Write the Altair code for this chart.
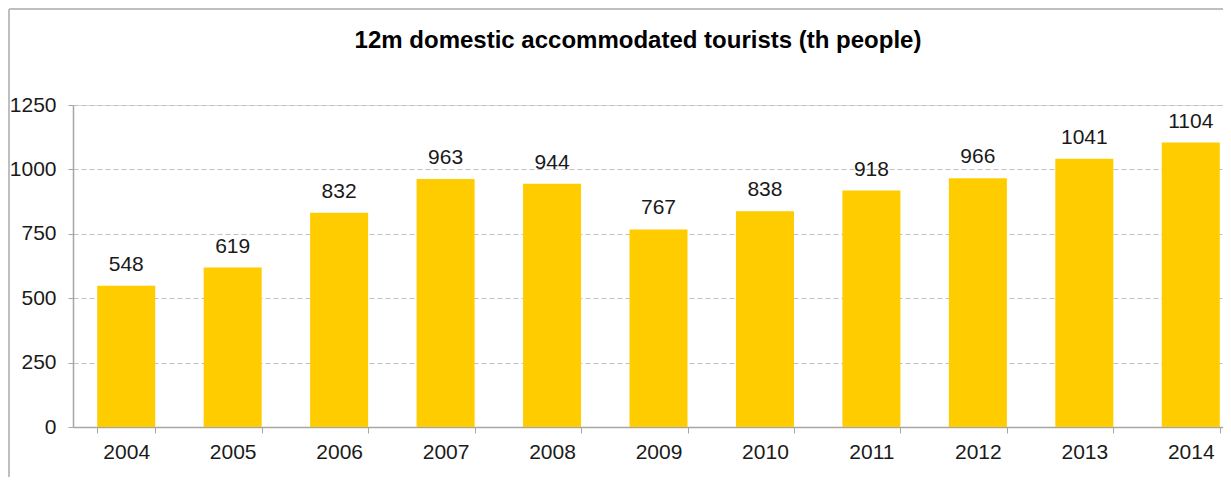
import altair as alt
import pandas as pd

years = ["2004", "2005", "2006", "2007", "2008", "2009", "2010", "2011", "2012", "2013", "2014"]
values = [548, 619, 832, 963, 944, 767, 838, 918, 966, 1041, 1104]
y_ticks = [0, 250, 500, 750, 1000, 1250]
title_text = "12m domestic accommodated tourists (th people)"

df = pd.DataFrame({"year": years, "value": values})

FONT = "Liberation Sans"
FS = 21

base = alt.Chart(df)

x_enc = alt.X(
    "year:N",
    sort=years,
    title=None,
    scale=alt.Scale(paddingInner=0.455, paddingOuter=0.2275, range=[0, 1171]),
    axis=alt.Axis(
        labelAngle=0,
        tickBand="extent",
        tickSize=6,
        tickColor="#A6A6A6",
        domainColor="#A6A6A6",
        domainWidth=1.5,
        labelPadding=8,
        labelFontSize=FS,
        labelFont=FONT,
        labelColor="#1a1a1a",
        grid=False,
    ),
)

y_enc = alt.Y(
    "value:Q",
    title=None,
    scale=alt.Scale(domain=[0, 1250], nice=False),
    axis=alt.Axis(
        values=y_ticks,
        format="d",
        grid=True,
        gridColor="#C0C0C0",
        gridDash=[5, 3],
        gridWidth=1,
        tickSize=5,
        tickColor="#A6A6A6",
        domainColor="#A6A6A6",
        domainWidth=1.5,
        labelPadding=12,
        labelFontSize=FS,
        labelFont=FONT,
        labelColor="#1a1a1a",
    ),
)

bars = base.mark_bar(color="#FFCC00").encode(x=x_enc, y=y_enc)

labels = base.mark_text(
    baseline="alphabetic", dy=-15, fontSize=FS, font=FONT, color="#1a1a1a"
).encode(x=alt.X("year:N", sort=years), y="value:Q", text="value:Q")

one = pd.DataFrame({"t": [title_text]})

title = alt.Chart(one).mark_text(
    font=FONT, fontSize=24, fontWeight="bold", color="#000000",
    align="center", baseline="middle",
).encode(text="t:N", x=alt.value(565), y=alt.value(-64))

frame_left = alt.Chart(one).mark_rule(color="#BFBFBF", strokeWidth=2).encode(
    x=alt.value(-64), y=alt.value(-96), y2=alt.value(400)
)
frame_top = alt.Chart(one).mark_rule(color="#BFBFBF", strokeWidth=2).encode(
    x=alt.value(-64), x2=alt.value(1200), y=alt.value(-96)
)

chart = (
    alt.layer(bars, labels, title, frame_left, frame_top)
    .properties(
        width=1150,
        height=322,
        autosize=alt.AutoSizeParams(type="none"),
        padding={"left": 65, "top": 97, "right": 0, "bottom": 50},
    )
    .configure_view(stroke=None)
    .configure(background="#FFFFFF")
)

chart.save("out.html", embed_options={"renderer": "svg", "actions": False})
